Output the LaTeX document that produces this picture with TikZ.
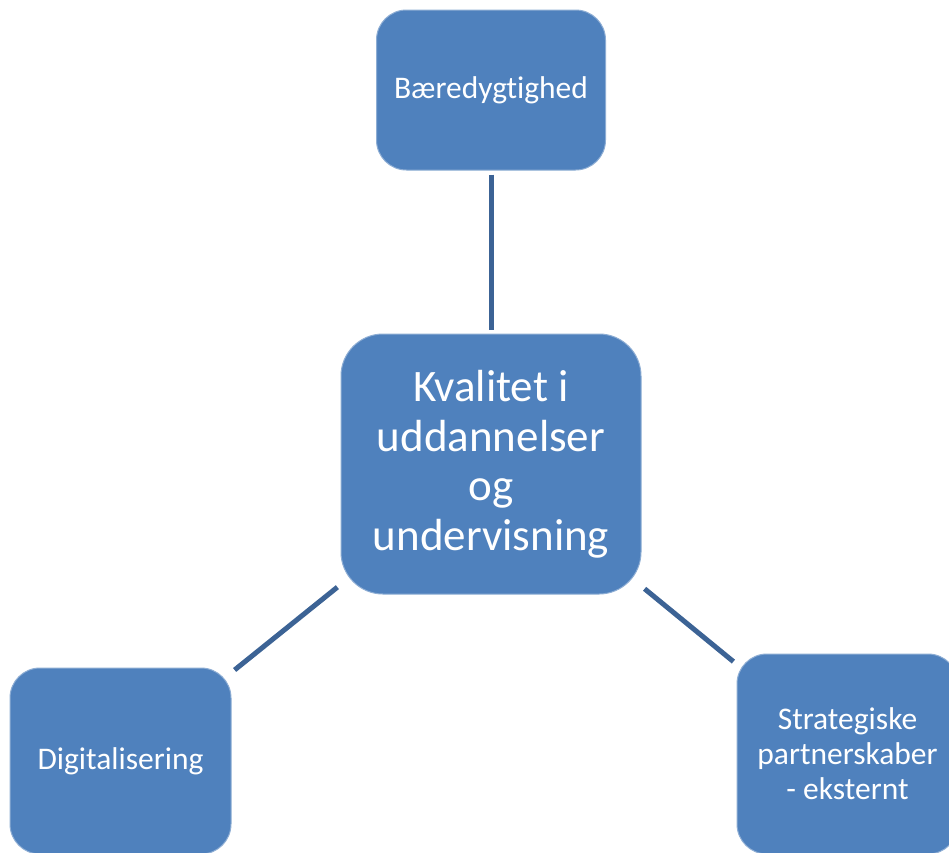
\documentclass[tikz,border=0pt]{standalone}
\usepackage{fontspec}
\setmainfont[Ligatures=NoCommon]{Carlito}
\definecolor{boxblue}{RGB}{79,129,189}
\definecolor{linkblue}{RGB}{60,99,149}

\begin{document}
\begin{tikzpicture}
    [
    x=1pt, y=-1pt,
    theme/.style={rectangle, rounded corners=30pt, fill=boxblue, draw=boxblue!65!white, line width=1pt, text=white, align=center, inner sep=0pt, font=\fontsize{31.5}{35}\selectfont},
    core/.style={theme, rounded corners=42pt, font=\fontsize{45}{49.5}\selectfont},
    link/.style={draw=linkblue, line width=5pt, shorten <=4pt, shorten >=4pt}
    ]
\clip (0,0) rectangle (949,852);
\fill[white] (0,0) rectangle (949,852);
\node[core, minimum width=300pt, minimum height=260pt] (kvalitet) at (491,464) {Kvalitet i\\uddannelser\\og\\undervisning};
\node[theme, minimum width=229pt, minimum height=160pt] (baeredygtighed) at (491,90) {Bæredygtighed};
\node[theme, minimum width=221pt, minimum height=186pt] (digital) at (120.5,761) {Digitalisering};
\node[theme, minimum width=221pt, minimum height=200pt] (strategi) at (847.5,754) {Strategiske\\partnerskaber\\- eksternt};
\draw[link] (baeredygtighed) -- (kvalitet);
\draw[link] (kvalitet) -- (digital);
\draw[link] (kvalitet) -- (strategi);
\end{tikzpicture}
\end{document}
